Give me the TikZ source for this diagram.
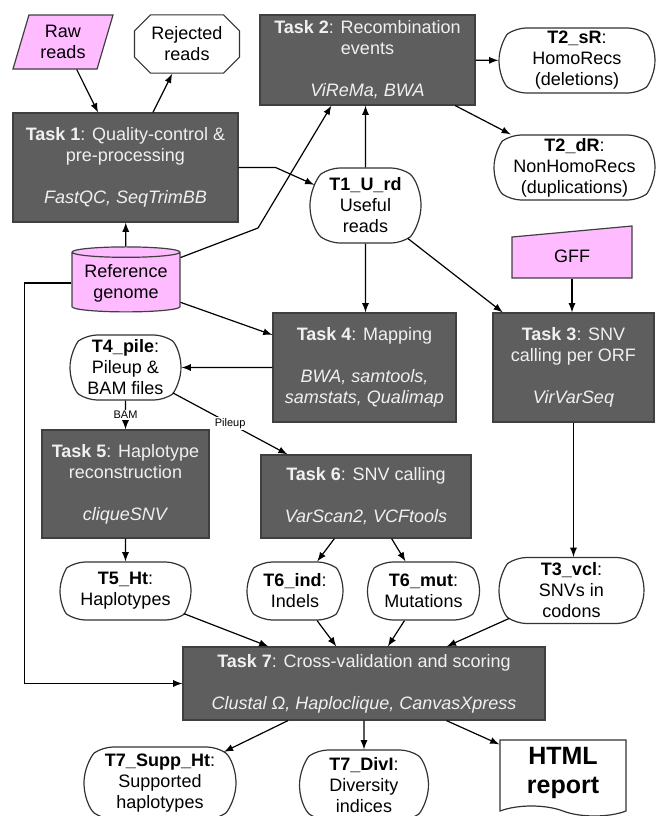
\documentclass[tikz,border=0pt]{standalone}
\usepackage{fontspec}
\setmainfont{Liberation Sans}
\usetikzlibrary{shapes.geometric,shapes.misc,shapes.symbols}
\definecolor{taskgray}{RGB}{94,94,94}
\definecolor{inpink}{RGB}{255,187,255}

\begin{document}
\begin{tikzpicture}[x=0.5pt,y=-0.5pt,>=latex,line width=0.6pt,
	every node/.style={font=\fontsize{9}{10.5}\selectfont,align=center,inner sep=1pt},
	task/.style={shape=rectangle,draw=black!75,fill=taskgray,text=white!94!black},
	data/.style={shape=rounded rectangle,rounded rectangle arc length=110,rounded corners=5pt,draw=black!80,fill=white},
	input/.style={draw=black!75,fill=inpink},
	tag/.style={font=\fontsize{5.5}{6}\selectfont,fill=white,inner sep=0.5pt}]
	\useasboundingbox (0,0) rectangle (658,816);
	% inputs and task 1
	\node[shape=trapezium,trapezium left angle=67,trapezium right angle=113,trapezium stretches body,minimum width=50pt,minimum height=27pt,input](raw) at (63,42) {Raw\\reads};
	\node[shape=chamfered rectangle,chamfered rectangle xsep=3pt,chamfered rectangle ysep=5pt,draw=black!80,minimum width=52.5pt,minimum height=29pt](rej) at (187,44) {Rejected\\reads};
	\node[task,minimum width=112.5pt,minimum height=54.5pt](t1) at (125.5,167.5) {\textbf{Task 1}: Quality-control \&\\pre-processing\\[10.5pt]\textit{FastQC, SeqTrimBB}};
	\node[shape=cylinder,shape border rotate=90,aspect=0.12,minimum width=54pt,minimum height=32.5pt,input](ref) at (126,283) {Reference\\genome};
	% task 2
	\node[task,minimum width=107.5pt,minimum height=45pt](t2) at (367.5,60) {\textbf{Task 2}: Recombination\\events\\[10.5pt]\textit{ViReMa, BWA}};
	\node[data,minimum width=80pt,minimum height=32.5pt](sr) at (577,60.5) {\textbf{T2\_sR}:\\HomoRecs\\(deletions)};
	\node[data,minimum width=82.5pt,minimum height=32.5pt](dr) at (574.5,167.5) {\textbf{T2\_dR}:\\NonHomoRecs\\(duplications)};
	\node[data,minimum width=57.5pt,minimum height=37.5pt](urd) at (365.5,205.5) {\textbf{T1\_U\_rd}\\Useful\\reads};
	% GFF
	\filldraw[input] (512,278) -- (512,237) -- (632,226) -- (632,278) -- cycle;
	\node[minimum width=60pt,minimum height=22pt](gff) at (572,256) {GFF};
	% tasks 3 and 4
	\node[task,minimum width=91.5pt,minimum height=54.5pt](t4) at (364.5,367.5) {\textbf{Task 4}: Mapping\\[10.5pt]\textit{BWA, samtools,}\\\textit{samstats, Qualimap}};
	\node[task,minimum width=80.5pt,minimum height=54.5pt](t3) at (573.5,367.5) {\textbf{Task 3}: SNV\\calling per ORF\\[10.5pt]\textit{VirVarSeq}};
	\node[data,minimum width=57.5pt,minimum height=32.5pt](pile) at (125.5,367.5) {\textbf{T4\_pile}:\\Pileup \&\\BAM files};
	% tasks 5 and 6
	\node[task,minimum width=83.5pt,minimum height=54pt](t5) at (125.5,484) {\textbf{Task 5}: Haplotype\\reconstruction\\[10.5pt]\textit{cliqueSNV}};
	\node[task,minimum width=105pt,minimum height=41.5pt](t6) at (366,496.5) {\textbf{Task 6}: SNV calling\\[10.5pt]\textit{VarScan2, VCFtools}};
	\node[data,minimum width=67.5pt,minimum height=29pt](ht) at (125.5,591) {\textbf{T5\_Ht}:\\Haplotypes};
	\node[data,minimum width=50pt,minimum height=29pt](ind) at (295,591) {\textbf{T6\_ind}:\\Indels};
	\node[data,minimum width=58pt,minimum height=29pt](mut) at (423.5,591) {\textbf{T6\_mut}:\\Mutations};
	\node[data,minimum width=74.5pt,minimum height=33pt](vcl) at (571.5,590.5) {\textbf{T3\_vcl}:\\SNVs in\\codons};
	% task 7
	\node[task,minimum width=181pt,minimum height=36.5pt](t7) at (364,683.5) {\textbf{Task 7}: Cross-validation and scoring\\[10.5pt]\textit{Clustal Ω, Haploclique, CanvasXpress}};
	\node[data,minimum width=78pt,minimum height=36pt](supp) at (160,783) {\textbf{T7\_Supp\_Ht}:\\Supported\\haplotypes};
	\node[data,minimum width=66.5pt,minimum height=35pt](divi) at (364,785) {\textbf{T7\_DivI}:\\Diversity\\indices};
	\node[shape=tape,tape bend top=none,tape bend bottom=out and in,draw=black!80,minimum width=63pt,minimum height=38pt,font=\fontsize{12.5}{14.5}\selectfont\bfseries](html) at (563,773) {HTML\\report};
	% connectors
	\draw[->] (raw) -- (t1);
	\draw[->] (t1) -- (rej);
	\draw[->] (ref) -- (t1);
	\draw[->] (ref.25) -- (258,228) -- ([xshift=36pt]t2.south west);
	\draw[->] (t1.east) -- ++(37,0) -- (urd.158);
	\draw[->] (urd) -- (urd |- t2.south);
	\draw[->] (t2) -- (sr);
	\draw[->] (t2) -- (dr);
	\draw[->] (urd) -- (urd |- t4.north);
	\draw[->] (urd) -- (t3);
	\draw[->] (gff) -- (gff |- t3.north);
	\draw[->] (ref) -- (t4);
	\draw[->] (t4) -- (pile);
	\draw[->] (ref.180) -- ++(-47,0) |- (t7.west);
	\draw[->] (pile) -- node[tag]{BAM} (t5);
	\draw[->] (pile) -- node[tag]{Pileup} (t6);
	\draw[->] (t5) -- (ht);
	\draw[->] (t6) -- (ind);
	\draw[->] (t6) -- (mut);
	\draw[->] (t3.south) -- (t3.south |- vcl.north);
	\draw[->] (ht) -- (t7);
	\draw[->] (ind) -- (t7);
	\draw[->] (mut) -- (t7);
	\draw[->] (vcl) -- (t7);
	\draw[->] (t7) -- (supp);
	\draw[->] (t7) -- (divi);
	\draw[->] (t7) -- (html);
\end{tikzpicture}
\end{document}
